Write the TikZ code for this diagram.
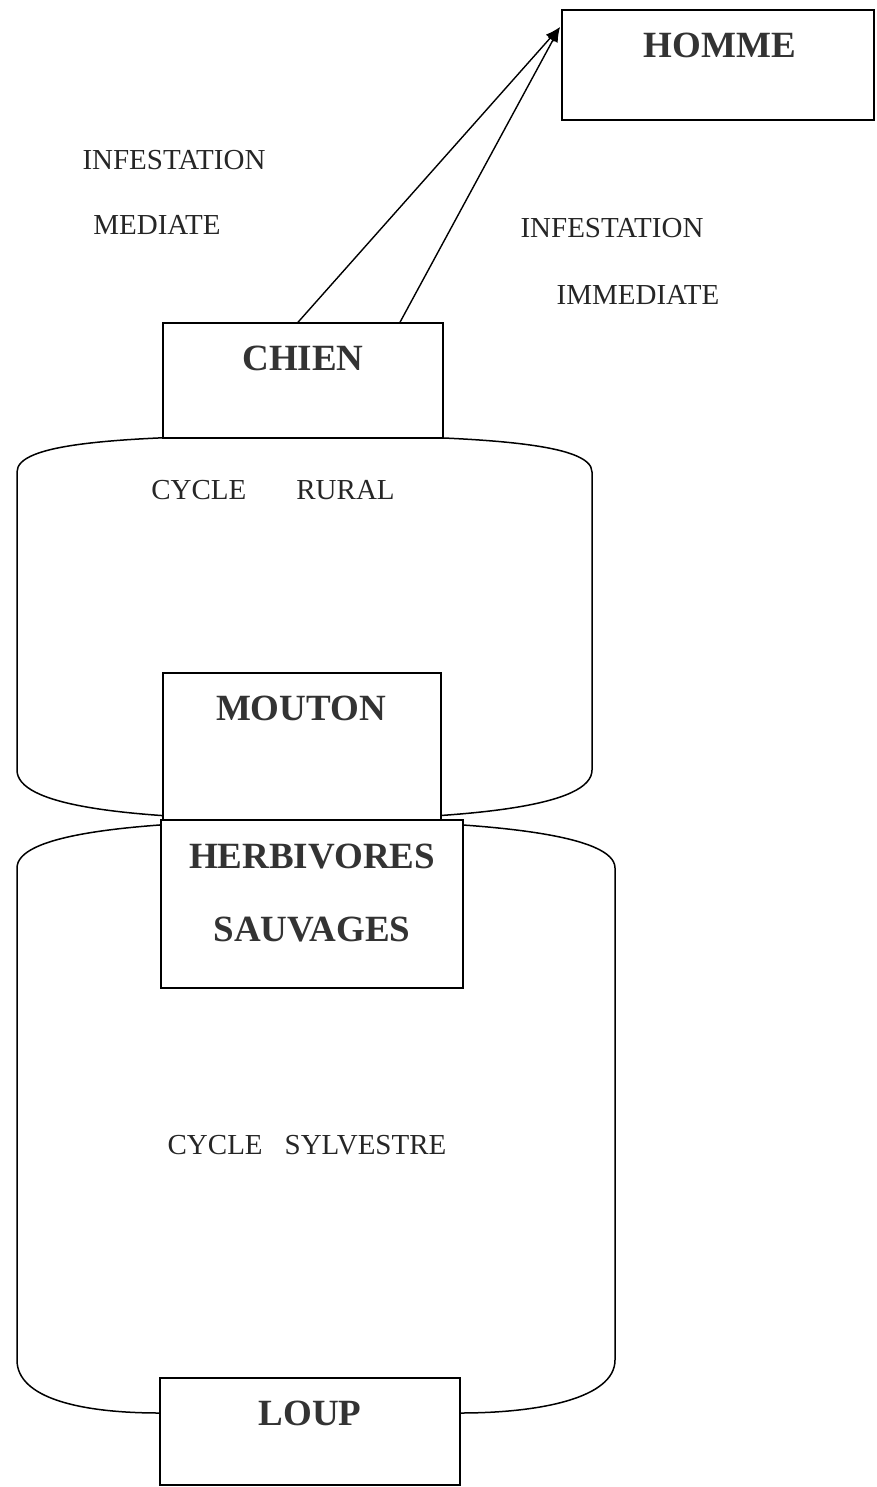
\documentclass[tikz,border=0pt]{standalone}
\usepackage{fontspec}
\setmainfont{Liberation Serif}
\usetikzlibrary{arrows.meta,positioning}

\tikzset{
  boite/.style={draw, fill=white, line width=1.5pt, inner sep=0pt},
  nom/.style={font=\fontsize{37}{40}\selectfont\bfseries, text=black!80},
  legende/.style={font=\fontsize{29}{31}\selectfont, text=black!85},
  fleche/.style={line width=1.4pt, -{Latex[length=15pt,width=11pt]}},
  enveloppe/.style={line width=1.5pt}
}

\begin{document}
\begin{tikzpicture}[x=1pt, y=-1pt]

\useasboundingbox (0,0) rectangle (876,1487);

% Cycle rural
\draw[enveloppe] (17,770) -- (17,472) .. controls (17,444) and (110,436) .. (300,435)
  .. controls (490,436) and (592,444) .. (592,472) -- (592,770)
  .. controls (592,805) and (480,819) .. (300,820)
  .. controls (120,819) and (17,805) .. (17,770) -- cycle;

% Cycle sylvestre
\draw[enveloppe] (17,1360) -- (17,868) .. controls (17,836) and (120,821) .. (310,820)
  .. controls (500,821) and (615,836) .. (615,868) -- (615,1360)
  .. controls (615,1398) and (540,1413) .. (460,1413) -- (160,1413)
  .. controls (80,1413) and (17,1398) .. (17,1360) -- cycle;

% Boites
\node[boite, minimum width=312, minimum height=110] (homme) at (718,65) {};
\node[boite, minimum width=280, minimum height=115] (chien) at (303,380.5) {};
\node[boite, minimum width=278, minimum height=147] (mouton) at (302,746.5) {};
\node[boite, minimum width=302, minimum height=168] (herbivores) at (312,904) {};
\node[boite, minimum width=300, minimum height=107] (loup) at (310,1431.5) {};

% Noms
\node[nom] (t-homme) at (720,45) {HOMME};
\node[nom] (t-chien) at (303,358) {CHIEN};
\node[nom] (t-mouton) at (301,708) {MOUTON};
\node[nom] (t-herbi) at (312,857) {HERBIVORES};
\node[nom] (t-sauv) at (312,930) {SAUVAGES};
\node[nom] (t-loup) at (310,1413) {LOUP};

% Legendes
\node[legende] (inf-med) at (174,160) {INFESTATION};
\node[legende] (med) at (157,225) {MEDIATE};
\node[legende] (inf-imm) at (612,228) {INFESTATION};
\node[legende] (imm) at (638,295) {IMMEDIATE};
\node[legende] (rural) at (273,490) {CYCLE\hspace{50pt}RURAL};
\node[legende] (sylv) at (307,1145) {CYCLE\hspace{22pt}SYLVESTRE};

% Fleches vers l'homme
\coordinate (pointe) at (560,27);
\draw[fleche] ([xshift=-5pt]chien.north) -- (pointe);
\draw[fleche] ([xshift=97pt]chien.north) -- (pointe);

\end{tikzpicture}
\end{document}
